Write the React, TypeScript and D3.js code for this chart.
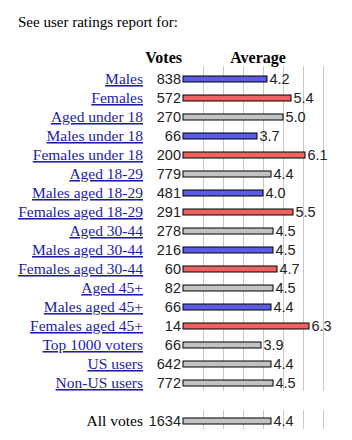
import * as d3 from "d3";

const W = 352;
const H = 440;

const LABELS = [
  "Males",
  "Females",
  "Aged under 18",
  "Males under 18",
  "Females under 18",
  "Aged 18-29",
  "Males aged 18-29",
  "Females aged 18-29",
  "Aged 30-44",
  "Males aged 30-44",
  "Females aged 30-44",
  "Aged 45+",
  "Males aged 45+",
  "Females aged 45+",
  "Top 1000 voters",
  "US users",
  "Non-US users",
];
const VOTES = [838, 572, 270, 66, 200, 779, 481, 291, 278, 216, 60, 82, 66, 14, 66, 642, 772];
const AVERAGES = [4.2, 5.4, 5.0, 3.7, 6.1, 4.4, 4.0, 5.5, 4.5, 4.5, 4.7, 4.5, 4.4, 6.3, 3.9, 4.4, 4.5];
const GROUPS = ["m", "f", "a", "m", "f", "a", "m", "f", "a", "m", "f", "a", "m", "f", "a", "a", "a"];

const TOTAL_LABEL = "All votes";
const TOTAL_VOTES = 1634;
const TOTAL_AVERAGE = 4.4;

const GRID = [1, 2, 3, 4, 5, 6, 7];

const FILL: Record<string, string> = { m: "#5b5be6", f: "#ef6262", a: "#c2c2c2" };
const SERIF = "'Liberation Serif', 'Times New Roman', serif";
const SANS = "'Liberation Sans', Arial, sans-serif";
const LINK = "#1c1caa";

export default function App() {
  const x = d3.scaleLinear().domain([0, 10]).range([183, 383]);
  // Row centres; the total sits two rows below the last link, in its own table.
  const y = (i: number) => 79 + i * 19;
  const rowTotal = LABELS.length + 1;

  const row = (
    label: string,
    votes: number,
    avg: number,
    group: string,
    i: number,
    link: boolean,
  ) => (
    <g key={label}>
      <text
        x={143}
        y={y(i) + 5}
        textAnchor="end"
        fontFamily={SERIF}
        fontSize={15.5}
        fill={link ? LINK : "#000"}
        textDecoration={link ? "underline" : undefined}
      >
        {label}
      </text>
      <text x={181} y={y(i) + 5} textAnchor="end" fontFamily={SANS} fontSize={14.5} fill="#222">
        {votes}
      </text>
      <rect
        x={x(0)}
        y={y(i) - 3}
        width={x(avg) - x(0)}
        height={6}
        fill={FILL[group]}
        stroke="#000"
        strokeWidth={1}
      />
      <text x={x(avg) + 2.5} y={y(i) + 5} fontFamily={SANS} fontSize={14.5} fill="#222">
        {avg.toFixed(1)}
      </text>
    </g>
  );

  return (
    <svg
      width={W}
      height={H}
      style={{ position: "absolute", left: 0, top: 0, background: "#fff" }}
    >
      <text x={18} y={27} fontFamily={SERIF} fontSize={15} fill="#000">
        See user ratings report for:
      </text>
      <text x={182} y={63} textAnchor="end" fontFamily={SERIF} fontSize={16} fontWeight="bold">
        Votes
      </text>
      <text x={258} y={63} textAnchor="middle" fontFamily={SERIF} fontSize={16} fontWeight="bold">
        Average
      </text>
      {GRID.map((v) => (
        <g key={v} stroke="#c8c8c8" strokeWidth={1}>
          <line x1={x(v) + 0.5} x2={x(v) + 0.5} y1={66} y2={391} />
          <line x1={x(v) + 0.5} x2={x(v) + 0.5} y1={410} y2={429} />
        </g>
      ))}
      {LABELS.map((l, i) => row(l, VOTES[i], AVERAGES[i], GROUPS[i], i, true))}
      {row(TOTAL_LABEL, TOTAL_VOTES, TOTAL_AVERAGE, "a", rowTotal, false)}
    </svg>
  );
}
